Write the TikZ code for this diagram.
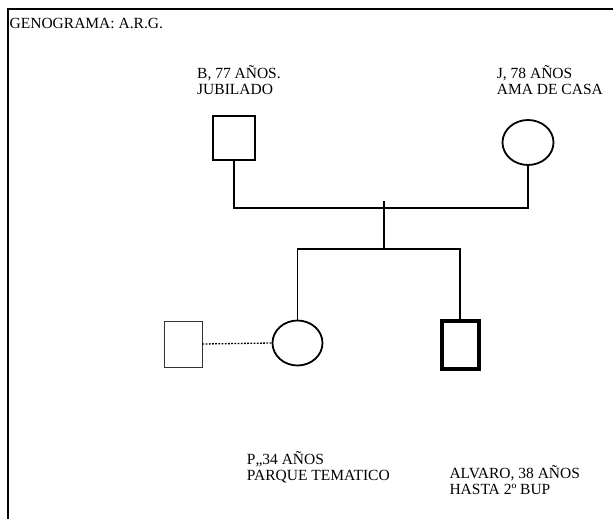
\documentclass[tikz,border=0pt]{standalone}
\usepackage{fontspec}
\setmainfont{Liberation Serif}
\usetikzlibrary{positioning, shapes.geometric}

\begin{document}
\begin{tikzpicture}[x=1pt, y=-1pt,
male node/.style={rectangle,draw,line width=1.8pt,minimum width=42pt,minimum height=44pt,inner sep=0pt},
female node/.style={ellipse,draw,line width=1.8pt,minimum width=51pt,minimum height=45pt,inner sep=0pt},
label text/.style={anchor=base west,inner sep=0pt,align=left,font=\fontsize{15.5}{16}\selectfont},
link/.style={line width=1.8pt}]

\useasboundingbox (0,0) rectangle (613,519);
\draw[line width=1.5pt] (8,519) -- (8,9) -- (613,9);

\node[label text] (title) at (9.5,28.5) {GENOGRAMA: A.R.G.};

\node[male node] (B) at (234,138) {};
\node[female node] (J) at (528,142.5) {};
\node[female node, minimum width=50pt] (P) at (297.5,343) {};
\node[male node, line width=4pt, minimum width=37pt, minimum height=48pt] (A) at (460,345) {};
\node[male node, line width=0.8pt, draw=black!80, minimum width=38pt, minimum height=46pt] (S) at (183,344) {};

% base of a two-line label is the second line
\node[label text] (Binfo) at (197,94.3) {B, 77 AÑOS.\\JUBILADO};
\node[label text] (Jinfo) at (496.7,94.3) {J, 78 AÑOS\\AMA DE CASA};
\node[label text] (Pinfo) at (246.7,480) {P,,34 AÑOS\\PARQUE TEMATICO};
\node[label text] (Ainfo) at (449.3,494) {ALVARO, 38 AÑOS\\HASTA 2º BUP};

\coordinate (marr) at (384,208);
\coordinate (drop) at (384,201);
\coordinate (sib) at (384,249);

\draw[link] (B.south) |- (marr) -| (J.south);
\draw[link] (drop) -- (sib);
\draw[link] (P.north) |- (sib) -| (A.north);

\draw[line width=1.3pt, dash pattern=on 1.8pt off 1.4pt] (S.east) -- (P.west);
\end{tikzpicture}
\end{document}
